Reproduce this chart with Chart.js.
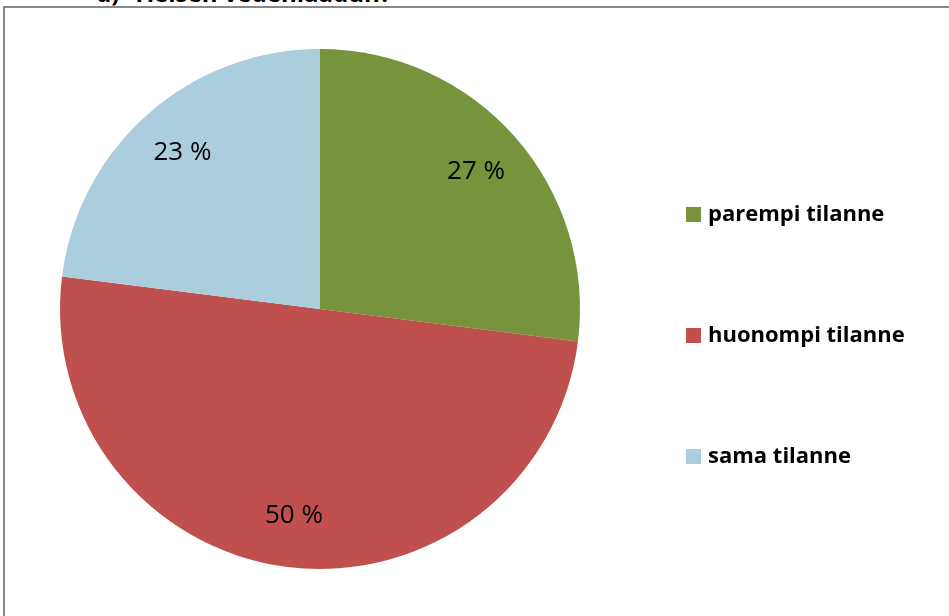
<!DOCTYPE html>
<html>
<head>
<meta charset="utf-8">
<script src="https://cdn.jsdelivr.net/npm/chart.js@4/dist/chart.umd.min.js"></script>
<style>
  html, body { margin: 0; padding: 0; background: #fff; }
  #wrap { position: relative; width: 949px; height: 616px; overflow: hidden; }
  #title {
    position: absolute; left: 96px; top: -24px;
    font: bold 24px "Open Sans", sans-serif; color: #000; white-space: nowrap;
  }
  #frame {
    position: absolute; left: 3px; top: 6px; width: 960px; height: 640px;
    border-top: 2px solid #898989; border-left: 2px solid #898989;
  }
  canvas { position: absolute; left: 0; top: 0; }
</style>
</head>
<body>
<div id="wrap">
  <div id="title">d)&nbsp; Yleisen vedenlaadun?</div>
  <div id="frame"></div>
  <canvas id="chart" width="949" height="616"></canvas>
</div>
<script>
const categories = ["parempi tilanne", "huonompi tilanne", "sama tilanne"];
const shares = [27, 50, 23];
const sliceColors = ["#77933C", "#C0504D", "#AACEDC"];

// percentage labels inside slices
const sliceLabels = {
  id: "sliceLabels",
  afterDatasetsDraw(chart) {
    const ctx = chart.ctx;
    const meta = chart.getDatasetMeta(0);
    ctx.save();
    ctx.font = '26px "Open Sans", sans-serif';
    ctx.fillStyle = "#000";
    ctx.textAlign = "center";
    ctx.textBaseline = "middle";
    meta.data.forEach(function(arc, i) {
      const p = arc.getProps(["x", "y", "startAngle", "endAngle", "outerRadius"], true);
      const mid = (p.startAngle + p.endAngle) / 2;
      const r = p.outerRadius * 0.8;
      ctx.fillText(shares[i] + " %", p.x + Math.cos(mid) * r, p.y + Math.sin(mid) * r);
    });
    ctx.restore();
  }
};

// legend on the right, one row per category
const sideLegend = {
  id: "sideLegend",
  afterDraw(chart) {
    const ctx = chart.ctx;
    const x = 686, y0 = 214, step = 121;
    ctx.save();
    ctx.font = 'bold 22px "Open Sans", sans-serif';
    ctx.textBaseline = "middle";
    chart.data.labels.forEach(function(lab, i) {
      const y = y0 + i * step;
      ctx.fillStyle = sliceColors[i];
      ctx.fillRect(x, y - 7, 15, 15);
      ctx.fillStyle = "#000";
      ctx.fillText(lab, x + 22, y + 1);
    });
    ctx.restore();
  }
};

new Chart(document.getElementById("chart").getContext("2d"), {
  type: "pie",
  data: {
    labels: categories,
    datasets: [{
      data: shares,
      backgroundColor: sliceColors,
      borderWidth: 0,
      hoverOffset: 0
    }]
  },
  options: {
    responsive: false,
    animation: false,
    layout: { padding: { top: 49, bottom: 47, left: 60, right: 369 } },
    plugins: {
      legend: { display: false },
      tooltip: { enabled: false }
    }
  },
  plugins: [sliceLabels, sideLegend]
});
</script>
</body>
</html>
